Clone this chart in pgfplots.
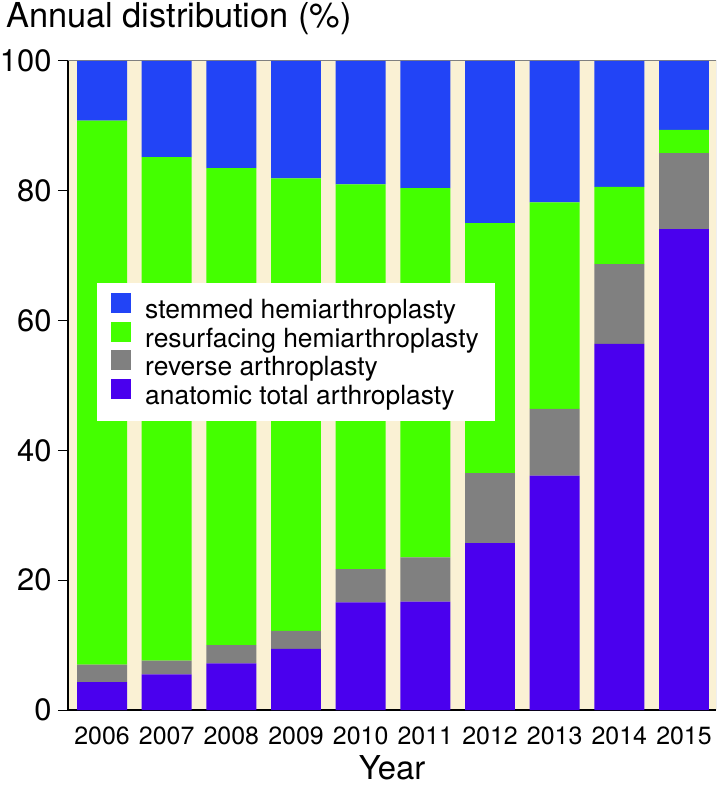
\documentclass[border=0pt]{standalone}
\usepackage{pgfplots}
\usepackage{pgfplotstable}
\pgfplotsset{compat=1.18}
\usepackage{fontspec}
\setmainfont{TeX Gyre Heros}
\definecolor{cream}{RGB}{250,241,212}
\definecolor{stemblue}{RGB}{34,68,246}
\definecolor{resgreen}{RGB}{68,255,0}
\definecolor{revgray}{RGB}{128,128,128}
\definecolor{anapurple}{RGB}{74,0,238}

\pgfplotstableread{
x anat rev res stem
0 4.3 2.7 83.8 9.2
1 5.5 2.1 77.6 14.8
2 7.2 2.8 73.5 16.5
3 9.4 2.8 69.7 18.1
4 16.6 5.1 59.3 19.0
5 16.7 6.8 56.9 19.6
6 25.7 10.8 38.5 25.0
7 36.1 10.3 31.8 21.8
8 56.4 12.3 11.9 19.4
9 74.1 11.7 3.6 10.6
}\data

\pgfplotsset{
  sq/.style={legend image code/.code={\fill[##1] (0bp,-1bp) rectangle (20bp,19bp);}}
}

\begin{document}
\begin{tikzpicture}
\begin{axis}[
  scale only axis, width=648bp, height=649bp,
  ybar stacked, bar width=0.773,
  xmin=-0.526, xmax=9.495, ymin=0, ymax=100,
  axis background/.style={fill=cream},
  axis x line*=bottom, axis y line*=left,
  axis line style={black, line width=1.2bp},
  ytick={0,20,40,60,80,100},
  xtick={0,1,2,3,4,5,6,7,8,9},
  xticklabels={2006,2007,2008,2009,2010,2011,2012,2013,2014,2015},
  tick align=outside, major tick length=10bp,
  x tick style={draw=none},
  y tick style={black, line width=1bp},
  /pgf/number format/assume math mode=true,
  x tick label style={font=\fontsize{25}{25}\selectfont, yshift=-3bp},
  y tick label style={font=\fontsize{31}{31}\selectfont, xshift=-3bp},
  xlabel={Year},
  x label style={font=\fontsize{33}{33}\selectfont, at={(axis description cs:0.5,0)}, anchor=base, yshift=-69bp},
  legend style={at={(axis description cs:0.0448,0.658)}, anchor=north west, draw=none, fill=white,
    font=\fontsize{26.5}{26.5}\selectfont, inner xsep=14bp, inner ysep=10bp, row sep=-4bp,
    /tikz/every odd column/.append style={column sep=12bp},
    nodes={inner sep=2bp, text height=18bp, text depth=5bp}},
  legend cell align=left,
  reverse legend,
]
\addplot[fill=anapurple, draw=none, sq] table[x=x, y=anat] {\data};
\addplot[fill=revgray, draw=none, sq] table[x=x, y=rev] {\data};
\addplot[fill=resgreen, draw=none, sq] table[x=x, y=res] {\data};
\addplot[fill=stemblue, draw=none, sq] table[x=x, y=stem] {\data};
\legend{anatomic total arthroplasty, reverse arthroplasty, resurfacing hemiarthroplasty, stemmed hemiarthroplasty}
\draw[gray, line width=1bp] (rel axis cs:0,1) -- (rel axis cs:1,1) -- (rel axis cs:1,0);
\end{axis}
\node[anchor=base west, font=\fontsize{34.5}{34.5}\selectfont, inner sep=0pt] at ([xshift=-62bp,yshift=33bp]current axis.north west) {Annual distribution (\%)};
\pgfresetboundingbox
\path ([xshift=-68bp,yshift=-78bp]current axis.south west) rectangle ([xshift=3bp,yshift=61bp]current axis.north east);
\end{tikzpicture}
\end{document}
